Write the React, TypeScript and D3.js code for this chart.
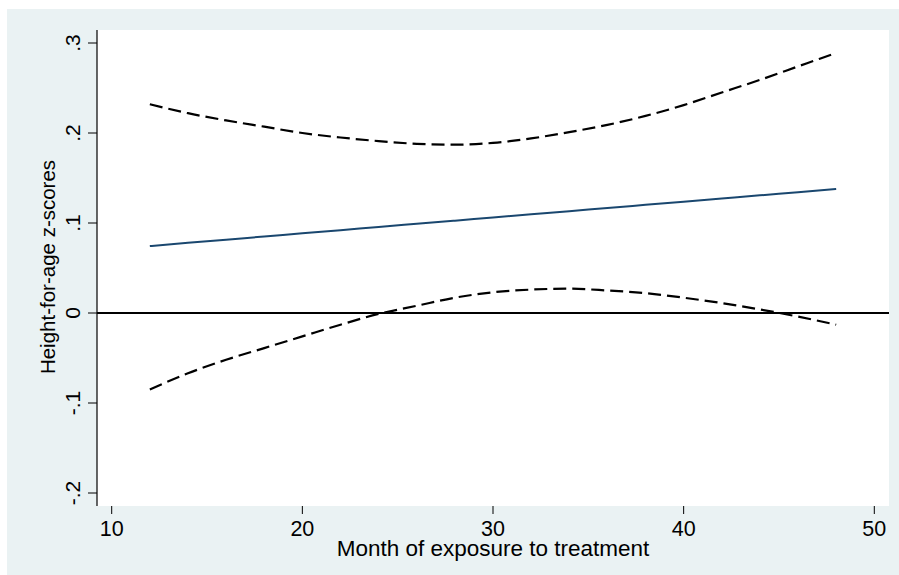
import React from "react";
import * as d3 from "d3";

const months = [12, 14, 16, 18, 20, 22, 24, 26, 28, 30, 32, 34, 36, 38, 40, 42, 44, 46, 48];
const fitted = [0.0744, 0.078, 0.0815, 0.085, 0.0885, 0.092, 0.0956, 0.0991, 0.1026, 0.1061, 0.1096, 0.1131, 0.1167, 0.1202, 0.1237, 0.1272, 0.1307, 0.1343, 0.1378];
const upperCI = [0.232, 0.222, 0.214, 0.207, 0.2, 0.195, 0.191, 0.188, 0.187, 0.189, 0.194, 0.201, 0.209, 0.219, 0.231, 0.245, 0.259, 0.274, 0.289];
const lowerCI = [-0.085, -0.067, -0.052, -0.039, -0.026, -0.013, -0.001, 0.008, 0.017, 0.023, 0.026, 0.027, 0.025, 0.022, 0.017, 0.011, 0.004, -0.004, -0.013];
const xTicks = [10, 20, 30, 40, 50];
const yTicks = [-0.2, -0.1, 0, 0.1, 0.2, 0.3];
const yTickLabels = ["-.2", "-.1", "0", ".1", ".2", ".3"];
const xTitle = "Month of exposure to treatment";
const yTitle = "Height-for-age z-scores";

export default function App() {
  const W = 899, H = 575;
  const plot = { left: 97, right: 889, top: 30, bottom: 506 };
  const x = d3.scaleLinear().domain([10, 50]).range([111.7, 874.3]);
  const y = d3.scaleLinear().domain([0, 0.1]).range([313, 223]);
  const line = d3.line<number>().x((_, i) => x(months[i])).y((d) => y(d)).curve(d3.curveMonotoneX);
  const font = "'Liberation Sans', Arial, sans-serif";
  return (
    <div style={{ position: "absolute", left: 0, top: 0 }}>
      <svg width={W} height={H} style={{ display: "block" }}>
        <rect x={7} y={9} width={W - 7} height={H - 9} fill="#EAF2F3" />
        <rect x={plot.left} y={plot.top} width={plot.right - plot.left} height={plot.bottom - plot.top} fill="#ffffff" />
        <line x1={plot.left} x2={plot.right} y1={y(0)} y2={y(0)} stroke="#000" strokeWidth={2} />
        <path d={line(upperCI) || ""} fill="none" stroke="#000" strokeWidth={2.2} strokeDasharray="13,6" />
        <path d={line(lowerCI) || ""} fill="none" stroke="#000" strokeWidth={2.2} strokeDasharray="13,6" />
        <path d={line(fitted) || ""} fill="none" stroke="#1a476f" strokeWidth={2} />
        <line x1={plot.left} x2={plot.left} y1={plot.top} y2={plot.bottom} stroke="#000" strokeWidth={1.2} />
        {yTicks.map((t, i) => (
          <g key={"y" + i}>
            <line x1={88} x2={plot.left} y1={y(t)} y2={y(t)} stroke="#000" strokeWidth={1} />
            <text x={80} y={y(t)} transform={`rotate(-90, 80, ${y(t)})`} textAnchor="middle" fontFamily={font} fontSize={21} fill="#000">
              {yTickLabels[i]}
            </text>
          </g>
        ))}
        {xTicks.map((t, i) => (
          <g key={"x" + i}>
            <line x1={x(t)} x2={x(t)} y1={plot.bottom} y2={plot.bottom + 8} stroke="#000" strokeWidth={1} />
            <text x={x(t)} y={536} textAnchor="middle" fontFamily={font} fontSize={21.5} fill="#000">
              {t}
            </text>
          </g>
        ))}
        <text x={493} y={556} textAnchor="middle" fontFamily={font} fontSize={22.5} fill="#000">{xTitle}</text>
        <text x={55} y={267} transform="rotate(-90, 55, 267)" textAnchor="middle" fontFamily={font} fontSize={20.5} fill="#000">{yTitle}</text>
      </svg>
    </div>
  );
}
